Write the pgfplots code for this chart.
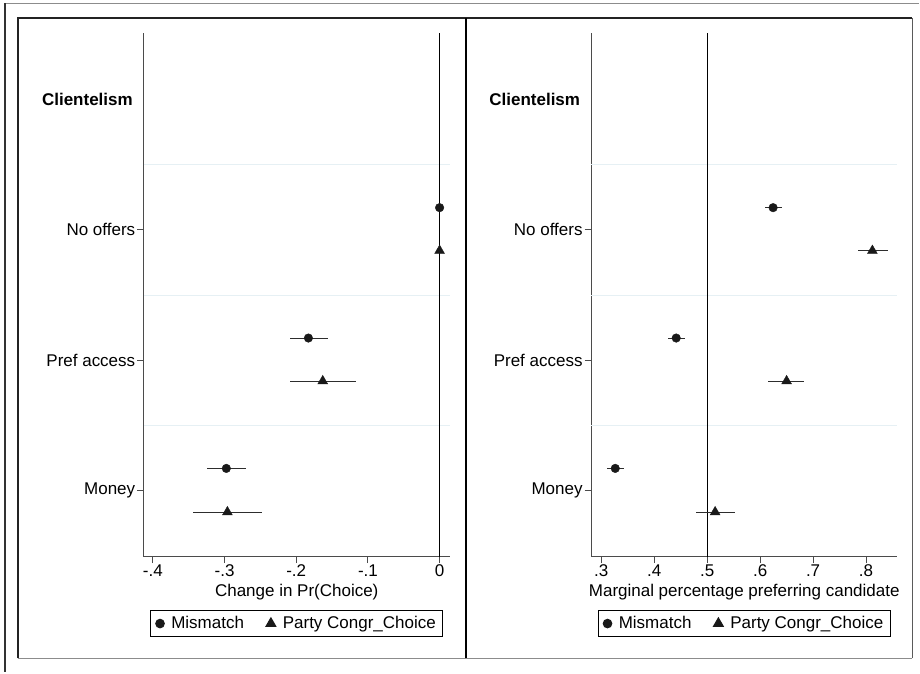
\documentclass[border=0pt]{standalone}
\usepackage{pgfplots}
\pgfplotsset{compat=1.18}
\usepackage{fontspec}
\setmainfont{Liberation Sans}
\definecolor{gridc}{RGB}{230,240,244}
\definecolor{axc}{RGB}{75,75,75}
\definecolor{cic}{RGB}{45,45,45}
\definecolor{mk}{RGB}{25,25,25}
\pgfplotsset{
  panel/.style={
    anchor=south west, scale only axis, height=524pt,
    ymin=0.494, ymax=4.51,
    axis x line*=bottom, axis y line*=left,
    axis line style={axc, line width=1pt, -},
    ytick={1,2,3}, yticklabels={Money,Pref access,No offers},
    tick align=outside, major tick length=6.5pt,
    tick style={axc, line width=1pt},
    extra y ticks={1.5,2.5,3.5}, extra y tick labels={},
    extra y tick style={grid=major, major tick length=0pt, major grid style={gridc, line width=1pt}},
    xticklabel style={inner sep=0pt, anchor=base, yshift=-13pt},
    yticklabel style={inner sep=0pt, anchor=east, xshift=-2pt},
    clip=false,
    legend columns=2,
    legend style={at={(0.5,-0.128)}, anchor=center, draw=black, line width=1pt,
      inner xsep=5pt, inner ysep=4.5pt,
      /tikz/every odd column/.append style={column sep=5pt},
      /tikz/every even column/.append style={column sep=20pt}},
    legend cell align=left,
    font=\fontsize{17}{20}\selectfont,
  },
  mism/.style={only marks, mark=*, mark size=4.3pt, mk,
    error bars/.cd, x dir=both, x explicit, error mark=none,
    error bar style={line width=1pt, color=cic}},
  party/.style={only marks, mark=triangle*, mark size=5.7pt, mk,
    error bars/.cd, x dir=both, x explicit, error mark=none,
    error bar style={line width=1pt, color=cic}},
}
\begin{document}
\begin{tikzpicture}[font=\fontsize{17}{20}\selectfont]
\path (0pt,0pt) rectangle (920pt,673pt);
% outer frame (cropped)
\draw[color={rgb,255:red,140;green,140;blue,140}, line width=1.5pt] (5pt,669.5pt) -- (920pt,669.5pt);
\draw[color={rgb,255:red,50;green,50;blue,50}, line width=1.2pt] (5pt,669.5pt) -- (5pt,0pt);
% panel frames
\draw[color={rgb,255:red,35;green,35;blue,35}, line width=1.2pt] (18pt,14pt) -- (18pt,655pt) -- (913pt,655pt);
\draw[color={rgb,255:red,140;green,140;blue,140}, line width=1.6pt] (18pt,14pt) -- (913pt,14pt);
\draw[color={rgb,255:red,90;green,90;blue,90}, line width=1pt] (913pt,14pt) -- (913pt,655pt);
\draw[black, line width=2pt] (466pt,14pt) -- (466pt,655pt);

% ---------- left panel ----------
\begin{axis}[panel, at={(144pt,116pt)}, width=306pt,
  xmin=-0.4125, xmax=0.014,
  xtick={-0.4,-0.3,-0.2,-0.1,0}, xticklabels={-.4,-.3,-.2,-.1,0},
  xlabel={Change in Pr(Choice)},
  xlabel style={at={(axis description cs:0.5,-0.0763)}, anchor=base, inner sep=0pt}]
\addplot[black, line width=1pt, forget plot] coordinates {(0,0.494) (0,4.51)};
\addplot[mism] table[x=x, y=y, x error plus=ep, x error minus=em] {
x y ep em
0 3.17 0 0
-0.183 2.17 0.028 0.026
-0.2975 1.17 0.0275 0.027
};
\addlegendentry{Mismatch}
\addplot[party] table[x=x, y=y, x error plus=ep, x error minus=em] {
x y ep em
0 2.84 0 0
-0.163 1.84 0.047 0.045
-0.296 0.835 0.048 0.048
};
\addlegendentry{Party Congr\_Choice}
\node[anchor=east, inner sep=0pt, font=\fontsize{17}{20}\selectfont\bfseries] at (axis cs:-0.4125,4) [xshift=-11pt] {Clientelism};
\end{axis}

% ---------- right panel ----------
\begin{axis}[panel, at={(591.7pt,116pt)}, width=306.3pt,
  xmin=0.281, xmax=0.859,
  xtick={0.3,0.4,0.5,0.6,0.7,0.8}, xticklabels={.3,.4,.5,.6,.7,.8},
  xlabel={Marginal percentage preferring candidate},
  xlabel style={at={(axis description cs:0.5,-0.0763)}, anchor=base, inner sep=0pt}]
\addplot[black, line width=1pt, forget plot] coordinates {(0.5,0.494) (0.5,4.51)};
\addplot[mism] table[x=x, y=y, x error plus=ep, x error minus=em] {
x y ep em
0.6245 3.17 0.0165 0.0155
0.4415 2.17 0.016 0.016
0.3264 1.17 0.0163 0.0154
};
\addlegendentry{Mismatch}
\addplot[party] table[x=x, y=y, x error plus=ep, x error minus=em] {
x y ep em
0.812 2.84 0.029 0.028
0.650 1.84 0.033 0.035
0.515 0.835 0.038 0.037
};
\addlegendentry{Party Congr\_Choice}
\node[anchor=east, inner sep=0pt, font=\fontsize{17}{20}\selectfont\bfseries] at (axis cs:0.281,4) [xshift=-11pt] {Clientelism};
\end{axis}
\end{tikzpicture}
\end{document}
